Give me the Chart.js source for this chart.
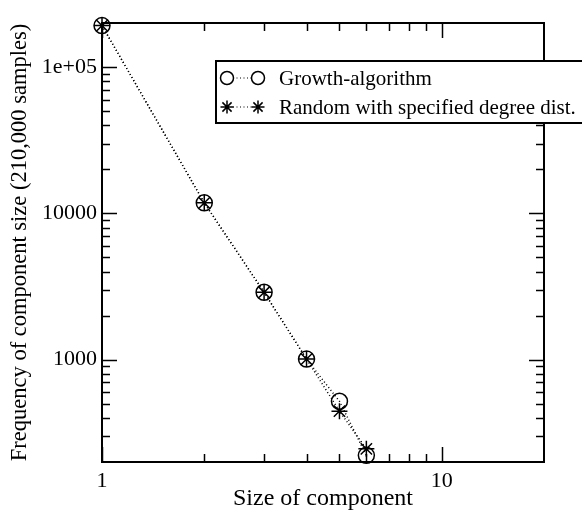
<!DOCTYPE html>
<html>
<head>
<meta charset="utf-8">
<script src="https://cdn.jsdelivr.net/npm/chart.js@4/dist/chart.umd.min.js"></script>
<style>
  html, body { margin: 0; padding: 0; background: #fff; }
  #wrap { width: 582px; height: 515px; position: relative; }
</style>
</head>
<body>
<div id="wrap"><canvas id="c" width="582" height="515"></canvas></div>
<script>
// ---- data ----
const componentSizes = [1, 2, 3, 4, 5, 6];
const growthFreq = [192000, 11800, 2890, 1010, 520, 222];
const randomFreq = [192000, 11800, 2890, 1010, 445, 246];
const seriesLabels = ["Growth-algorithm", "Random with specified degree dist."];

const xMajorTicks = [1, 10];
const xTickLabels = ["1", "10"];
const xMinorTicks = [2, 3, 4, 5, 6, 7, 8, 9];
const yMajorTicks = [1000, 10000, 100000];
const yTickLabels = ["1000", "10000", "1e+05"];
const yMinorTicks = [300, 400, 500, 600, 700, 800, 900,
  2000, 3000, 4000, 5000, 6000, 7000, 8000, 9000,
  20000, 30000, 40000, 50000, 60000, 70000, 80000, 90000];

const FONT = "'Liberation Serif', 'Times New Roman', serif";

const frameTicks = {
  id: 'frameTicks',
  afterDatasetsDraw(chart) {
    const ctx = chart.ctx;
    const a = chart.chartArea;
    const xs = chart.scales.x, ys = chart.scales.y;
    ctx.save();
    ctx.strokeStyle = '#000';
    ctx.lineWidth = 2;
    ctx.strokeRect(a.left, a.top, a.right - a.left, a.bottom - a.top);
    ctx.lineWidth = 1.5;
    const majL = 15, minL = 8;
    ctx.beginPath();
    const xt = (v, L) => {
      const p = Math.round(xs.getPixelForValue(v)) + 0.5;
      ctx.moveTo(p, a.bottom); ctx.lineTo(p, a.bottom - L);
      ctx.moveTo(p, a.top); ctx.lineTo(p, a.top + L);
    };
    const yt = (v, L) => {
      const p = Math.round(ys.getPixelForValue(v)) + 0.5;
      ctx.moveTo(a.left, p); ctx.lineTo(a.left + L, p);
      ctx.moveTo(a.right, p); ctx.lineTo(a.right - L, p);
    };
    xMajorTicks.forEach(v => xt(v, majL));
    xMinorTicks.forEach(v => xt(v, minL));
    yMajorTicks.forEach(v => yt(v, majL));
    yMinorTicks.forEach(v => yt(v, minL));
    ctx.stroke();

    // legend
    const lx = 216, ly = 61, lw = 400, lh = 62;
    ctx.fillStyle = '#fff';
    ctx.fillRect(lx, ly, lw, lh);
    ctx.lineWidth = 2;
    ctx.strokeRect(lx, ly, lw, lh);
    const rows = [78, 107];
    chart.data.datasets.forEach((ds, i) => {
      const y = rows[i];
      ctx.save();
      ctx.lineWidth = 1.2;
      ctx.setLineDash([1, 2.5]);
      ctx.beginPath();
      ctx.moveTo(233, y); ctx.lineTo(252, y);
      ctx.stroke();
      ctx.restore();
      const st = { pointStyle: ds.pointStyle, radius: 6.5, rotation: 0, borderWidth: 1.5 };
      ctx.strokeStyle = '#000';
      ctx.fillStyle = 'rgba(0,0,0,0)';
      ctx.lineWidth = 1.5;
      Chart.helpers.drawPoint(ctx, st, 227, y);
      Chart.helpers.drawPoint(ctx, st, 258, y);
      ctx.fillStyle = '#000';
      ctx.font = "21px " + FONT;
      ctx.textBaseline = 'middle';
      ctx.textAlign = 'left';
      ctx.fillText(ds.label, 279, y + 1);
    });
    ctx.restore();
  }
};

new Chart(document.getElementById('c'), {
  type: 'line',
  data: {
    datasets: [
      {
        label: seriesLabels[0],
        data: componentSizes.map((x, i) => ({ x: x, y: growthFreq[i] })),
        borderColor: '#000', borderWidth: 1.5, borderDash: [1, 2.5],
        pointStyle: 'circle', pointRadius: 8, pointBorderWidth: 1.5,
        pointBorderColor: '#000', pointBackgroundColor: 'rgba(0,0,0,0)',
        fill: false, tension: 0, clip: false
      },
      {
        label: seriesLabels[1],
        data: componentSizes.map((x, i) => ({ x: x, y: randomFreq[i] })),
        borderColor: '#000', borderWidth: 1.5, borderDash: [1, 2.5],
        pointStyle: 'star', pointRadius: 8, pointBorderWidth: 1.5,
        pointBorderColor: '#000', pointBackgroundColor: 'rgba(0,0,0,0)',
        fill: false, tension: 0, clip: false
      }
    ]
  },
  options: {
    responsive: false,
    animation: false,
    events: [],
    layout: { padding: { left: 0, right: 38, top: 23, bottom: 0 } },
    plugins: { legend: { display: false }, tooltip: { enabled: false } },
    scales: {
      x: {
        type: 'logarithmic', min: 1, max: 20,
        grid: { display: false, drawTicks: false },
        border: { display: false },
        afterBuildTicks: s => { s.ticks = xMajorTicks.map(v => ({ value: v, major: true })); },
        afterFit: s => { s.height = 53; },
        ticks: {
          autoSkip: false, maxRotation: 0, padding: 6, color: '#000',
          font: { family: FONT, size: 22 },
          callback: v => { const i = xMajorTicks.indexOf(v); return i >= 0 ? xTickLabels[i] : ''; }
        },
        title: { display: true, text: 'Size of component', color: '#000',
          font: { family: FONT, size: 24 }, padding: { top: 0, bottom: 2 } }
      },
      y: {
        type: 'logarithmic', min: 200, max: 200000,
        grid: { display: false, drawTicks: false },
        border: { display: false },
        afterBuildTicks: s => { s.ticks = yMajorTicks.map(v => ({ value: v, major: true })); },
        afterFit: s => { s.width = 102; },
        ticks: {
          autoSkip: false, padding: 5, color: '#000',
          font: { family: FONT, size: 22 },
          callback: v => { const i = yMajorTicks.indexOf(v); return i >= 0 ? yTickLabels[i] : ''; }
        },
        title: { display: true, text: 'Frequency of component size (210,000 samples)', color: '#000',
          font: { family: FONT, size: 22.5 }, padding: { top: 7, bottom: 0 } }
      }
    }
  },
  plugins: [frameTicks]
});
</script>
</body>
</html>
